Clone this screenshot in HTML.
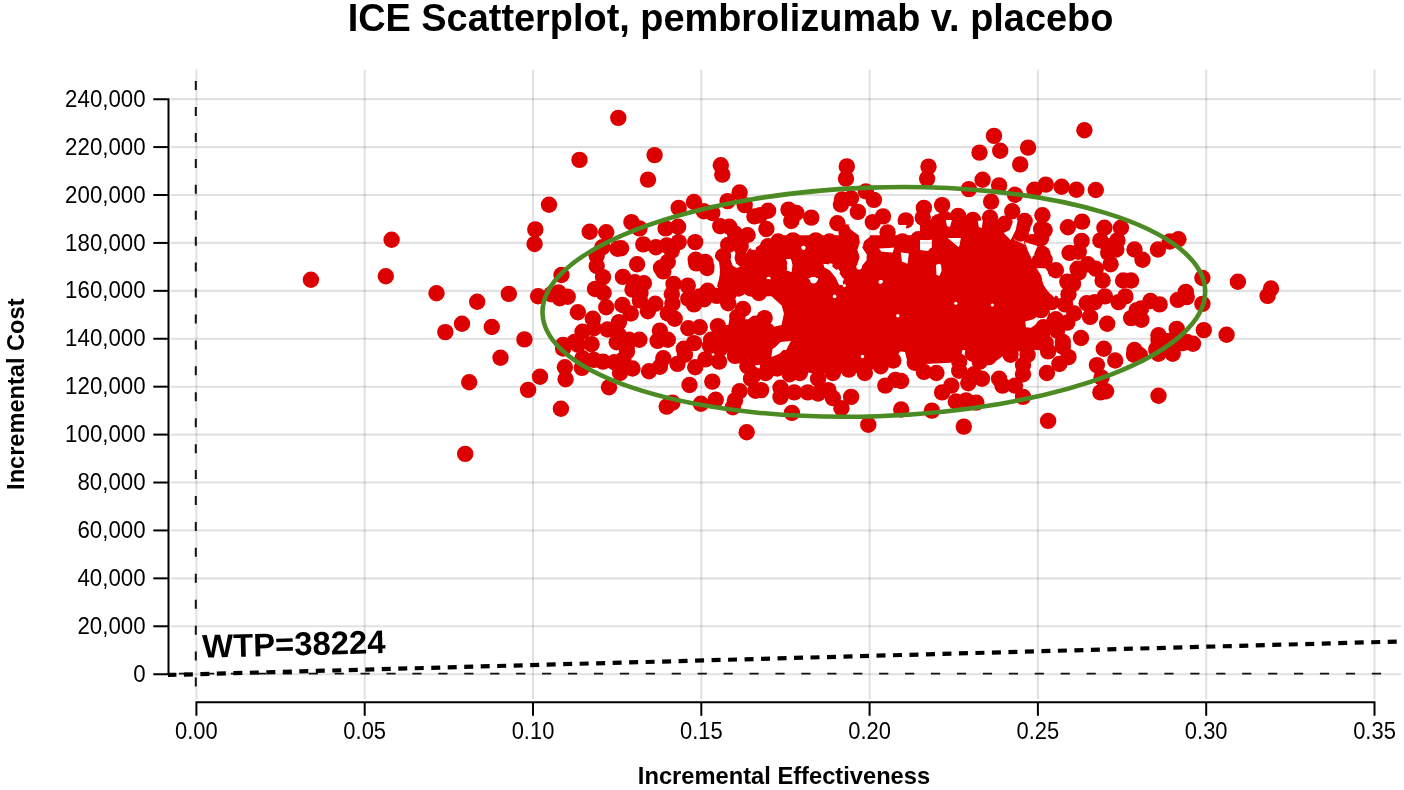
<!DOCTYPE html>
<html><head><meta charset="utf-8"><title>ICE Scatterplot</title>
<style>html,body{margin:0;padding:0;background:#fff;width:1404px;height:790px;overflow:hidden}svg{display:block;will-change:transform}text{font-family:"Liberation Sans",sans-serif}</style>
</head><body><svg width="1404" height="790" viewBox="0 0 1404 790"><line x1="171" y1="674.20" x2="1401" y2="674.20" stroke="#000" stroke-opacity="0.118" stroke-width="2.1"/><line x1="171" y1="626.28" x2="1401" y2="626.28" stroke="#000" stroke-opacity="0.118" stroke-width="2.1"/><line x1="171" y1="578.36" x2="1401" y2="578.36" stroke="#000" stroke-opacity="0.118" stroke-width="2.1"/><line x1="171" y1="530.44" x2="1401" y2="530.44" stroke="#000" stroke-opacity="0.118" stroke-width="2.1"/><line x1="171" y1="482.52" x2="1401" y2="482.52" stroke="#000" stroke-opacity="0.118" stroke-width="2.1"/><line x1="171" y1="434.60" x2="1401" y2="434.60" stroke="#000" stroke-opacity="0.118" stroke-width="2.1"/><line x1="171" y1="386.68" x2="1401" y2="386.68" stroke="#000" stroke-opacity="0.118" stroke-width="2.1"/><line x1="171" y1="338.76" x2="1401" y2="338.76" stroke="#000" stroke-opacity="0.118" stroke-width="2.1"/><line x1="171" y1="290.84" x2="1401" y2="290.84" stroke="#000" stroke-opacity="0.118" stroke-width="2.1"/><line x1="171" y1="242.92" x2="1401" y2="242.92" stroke="#000" stroke-opacity="0.118" stroke-width="2.1"/><line x1="171" y1="195.00" x2="1401" y2="195.00" stroke="#000" stroke-opacity="0.118" stroke-width="2.1"/><line x1="171" y1="147.08" x2="1401" y2="147.08" stroke="#000" stroke-opacity="0.118" stroke-width="2.1"/><line x1="171" y1="99.16" x2="1401" y2="99.16" stroke="#000" stroke-opacity="0.118" stroke-width="2.1"/><line x1="196.40" y1="69.7" x2="196.40" y2="699.5" stroke="#000" stroke-opacity="0.118" stroke-width="2.1"/><line x1="364.70" y1="69.7" x2="364.70" y2="699.5" stroke="#000" stroke-opacity="0.118" stroke-width="2.1"/><line x1="533.00" y1="69.7" x2="533.00" y2="699.5" stroke="#000" stroke-opacity="0.118" stroke-width="2.1"/><line x1="701.30" y1="69.7" x2="701.30" y2="699.5" stroke="#000" stroke-opacity="0.118" stroke-width="2.1"/><line x1="869.60" y1="69.7" x2="869.60" y2="699.5" stroke="#000" stroke-opacity="0.118" stroke-width="2.1"/><line x1="1037.90" y1="69.7" x2="1037.90" y2="699.5" stroke="#000" stroke-opacity="0.118" stroke-width="2.1"/><line x1="1206.20" y1="69.7" x2="1206.20" y2="699.5" stroke="#000" stroke-opacity="0.118" stroke-width="2.1"/><line x1="1374.50" y1="69.7" x2="1374.50" y2="699.5" stroke="#000" stroke-opacity="0.118" stroke-width="2.1"/><defs><mask id="hm" maskUnits="userSpaceOnUse" x="0" y="0" width="1404" height="790"><rect width="1404" height="790" fill="#fff"/><circle cx="789.6" cy="265.7" r="2.8" fill="#000"/><circle cx="813.5" cy="280.3" r="3.2" fill="#000"/><circle cx="830.6" cy="265.1" r="2.1" fill="#000"/><circle cx="838.0" cy="271.4" r="2.1" fill="#000"/><circle cx="842.0" cy="279.4" r="1.8" fill="#000"/><circle cx="844.3" cy="285.6" r="1.6" fill="#000"/><circle cx="859.1" cy="266.8" r="2.8" fill="#000"/><circle cx="881.3" cy="281.6" r="1.7" fill="#000"/><circle cx="904.6" cy="261.7" r="3.2" fill="#000"/><circle cx="834.6" cy="296.4" r="1.8" fill="#000"/><circle cx="897.8" cy="315.8" r="1.7" fill="#000"/><circle cx="862.5" cy="356.5" r="1.7" fill="#000"/><circle cx="929.0" cy="243.2" r="2.3" fill="#000"/><circle cx="956.9" cy="242.1" r="2.3" fill="#000"/><circle cx="902.8" cy="258.6" r="2.3" fill="#000"/><circle cx="1029.8" cy="244.9" r="2.8" fill="#000"/><circle cx="1008.8" cy="233.5" r="1.7" fill="#000"/><circle cx="938.7" cy="267.1" r="1.7" fill="#000"/><circle cx="904.6" cy="261.7" r="2.5" fill="#000"/><circle cx="955.8" cy="303.3" r="1.6" fill="#000"/><circle cx="992.3" cy="305.0" r="1.6" fill="#000"/><circle cx="1039.5" cy="348.3" r="2.1" fill="#000"/><circle cx="734.5" cy="261.7" r="2.5" fill="#000"/><circle cx="768.6" cy="278.8" r="2.1" fill="#000"/><circle cx="803.4" cy="247.8" r="2.1" fill="#000"/><circle cx="880.3" cy="282.0" r="1.7" fill="#000"/><polygon points="760.0,296.4 771.4,296.2 781.6,305.6 783.9,313.5 781.6,324.9 766.8,328.3 760.0,328.3" fill="#000"/><polygon points="772.5,350.0 780.5,342.0 790.8,340.9 786.2,350.0" fill="#000"/><polygon points="771.4,357.1 772.5,349.1 780.5,344.6 790.8,341.1 786.2,346.8 779.4,353.7" fill="#000"/><polygon points="803.3,379.9 809.0,375.3 813.5,374.2 810.1,383.3" fill="#000"/><polygon points="936.4,265.1 941.0,264.6 941.6,270.8 939.3,275.9 936.4,274.8" fill="#000"/><polygon points="1036.7,268.0 1045.8,268.5 1050.0,277.1 1050.0,286.2 1043.5,280.5 1041.2,272.5" fill="#000"/><polygon points="1025.3,321.5 1033.3,319.2 1043.5,312.4 1050.0,309.0 1048.1,314.7 1045.8,321.5 1036.7,323.8 1031.0,327.8 1025.9,327.2" fill="#000"/><polygon points="962.6,350.8 968.3,350.3 970.6,357.1 975.2,365.1 968.3,363.9 964.9,358.2" fill="#000"/><polygon points="786.3,259.2 790.8,259.2 792.5,264.9 791.4,271.7 786.8,270.6 788.0,264.9" fill="#000"/><polygon points="808.5,278.6 813.0,276.9 818.2,278.6 816.5,282.0 811.9,281.4" fill="#000"/><polygon points="823.3,263.7 830.1,264.9 837.0,270.6 841.5,276.3 843.2,284.9 839.3,284.9 835.8,277.4 830.1,270.6 824.4,267.2" fill="#000"/><polygon points="848.4,225.0 859.8,225.0 868.9,231.8 870.0,236.4 864.3,241.0 862.1,247.8 866.6,254.6 866.6,260.3 859.8,268.3 857.5,263.7 859.8,256.9 857.5,250.1 859.8,242.1 858.6,235.3 850.7,229.6" fill="#000"/><polygon points="879.1,248.4 894.0,247.8 892.8,252.4 881.4,251.8" fill="#000"/><polygon points="894.0,225.0 906.5,225.0 905.4,230.7 896.2,231.8" fill="#000"/><polygon points="900.8,252.4 908.8,253.5 907.6,263.7 901.9,261.5" fill="#000"/><polygon points="921.3,241.0 931.6,239.8 931.6,247.8 924.7,250.1" fill="#000"/><polygon points="936.1,264.9 940.0,263.7 940.0,275.1 937.3,274.0" fill="#000"/><polygon points="945.9,220.0 951.9,220.0 949.9,227.0 946.9,226.0" fill="#000"/><polygon points="977.8,221.0 982.8,220.0 981.8,228.0 978.8,227.0" fill="#000"/><polygon points="1003.7,233.0 1009.7,230.0 1013.7,220.0 1017.7,220.0 1015.7,230.0 1010.7,239.9" fill="#000"/><polygon points="1024.7,241.9 1037.6,245.9 1031.7,258.9 1028.7,251.9" fill="#000"/><polygon points="920.0,239.9 926.0,239.9 932.0,245.9 928.0,250.9 920.0,249.9" fill="#000"/><polygon points="947.9,237.9 960.9,237.9 958.9,246.9 953.9,242.9" fill="#000"/><polygon points="1036.6,268.4 1045.4,269.0 1048.0,272.0 1047.0,278.0 1050.0,283.0 1055.0,286.0 1059.5,287.0 1058.0,292.0 1054.3,297.5 1051.0,294.0 1047.5,290.5 1044.0,285.5 1042.5,281.0 1041.5,276.0 1039.0,272.0" fill="#000"/><polygon points="749.0,242.5 757.0,242.5 755.5,250.0 751.0,249.5" fill="#000"/><polygon points="715.0,258.0 719.0,262.0 720.0,270.0 719.0,279.0 717.0,286.0 715.0,286.0 714.0,275.0" fill="#000"/><polygon points="731.0,253.0 735.5,253.0 734.5,258.0 736.0,263.5 740.0,266.5 737.0,268.0 733.0,266.0 731.0,261.0" fill="#000"/></mask><mask id="xm" maskUnits="userSpaceOnUse" x="0" y="0" width="1404" height="790"><rect width="1404" height="790" fill="#fff"/><circle cx="803.4" cy="247.8" r="2.1" fill="#000"/><circle cx="880.3" cy="282.0" r="1.7" fill="#000"/><polygon points="786.3,259.2 790.8,259.2 792.5,264.9 791.4,271.7 786.8,270.6 788.0,264.9" fill="#000"/><polygon points="808.5,278.6 813.0,276.9 818.2,278.6 816.5,282.0 811.9,281.4" fill="#000"/><polygon points="823.3,263.7 830.1,264.9 837.0,270.6 841.5,276.3 843.2,284.9 839.3,284.9 835.8,277.4 830.1,270.6 824.4,267.2" fill="#000"/><polygon points="848.4,225.0 859.8,225.0 868.9,231.8 870.0,236.4 864.3,241.0 862.1,247.8 866.6,254.6 866.6,260.3 859.8,268.3 857.5,263.7 859.8,256.9 857.5,250.1 859.8,242.1 858.6,235.3 850.7,229.6" fill="#000"/><polygon points="879.1,248.4 894.0,247.8 892.8,252.4 881.4,251.8" fill="#000"/><polygon points="894.0,225.0 906.5,225.0 905.4,230.7 896.2,231.8" fill="#000"/><polygon points="900.8,252.4 908.8,253.5 907.6,263.7 901.9,261.5" fill="#000"/><polygon points="921.3,241.0 931.6,239.8 931.6,247.8 924.7,250.1" fill="#000"/><polygon points="936.1,264.9 940.0,263.7 940.0,275.1 937.3,274.0" fill="#000"/><polygon points="945.9,220.0 951.9,220.0 949.9,227.0 946.9,226.0" fill="#000"/><polygon points="977.8,221.0 982.8,220.0 981.8,228.0 978.8,227.0" fill="#000"/><polygon points="1003.7,233.0 1009.7,230.0 1013.7,220.0 1017.7,220.0 1015.7,230.0 1010.7,239.9" fill="#000"/><polygon points="1024.7,241.9 1037.6,245.9 1031.7,258.9 1028.7,251.9" fill="#000"/><polygon points="920.0,239.9 926.0,239.9 932.0,245.9 928.0,250.9 920.0,249.9" fill="#000"/><polygon points="947.9,237.9 960.9,237.9 958.9,246.9 953.9,242.9" fill="#000"/><polygon points="1036.6,268.4 1045.4,269.0 1048.0,272.0 1047.0,278.0 1050.0,283.0 1055.0,286.0 1059.5,287.0 1058.0,292.0 1054.3,297.5 1051.0,294.0 1047.5,290.5 1044.0,285.5 1042.5,281.0 1041.5,276.0 1039.0,272.0" fill="#000"/><polygon points="749.0,242.5 757.0,242.5 755.5,250.0 751.0,249.5" fill="#000"/><polygon points="715.0,258.0 719.0,262.0 720.0,270.0 719.0,279.0 717.0,286.0 715.0,286.0 714.0,275.0" fill="#000"/><polygon points="731.0,253.0 735.5,253.0 734.5,258.0 736.0,263.5 740.0,266.5 737.0,268.0 733.0,266.0 731.0,261.0" fill="#000"/></mask></defs><g fill="#dc0000" mask="url(#xm)"><g mask="url(#hm)"><polygon points="760.0,260.0 910.0,260.0 910.0,350.0 760.0,350.0"/><polygon points="760.0,340.0 910.0,340.0 910.0,351.4 900.1,351.4 891.0,363.9 879.6,366.2 864.8,373.0 832.9,373.0 816.9,374.2 805.6,371.9 782.8,374.2 766.8,373.0 760.0,371.9"/><polygon points="934.2,227.8 979.7,225.6 997.9,230.1 1008.2,239.2 1023.0,243.8 1028.7,252.9 1028.7,270.0 935.3,270.0 928.5,259.7 934.2,243.8"/><polygon points="900.0,260.0 1050.0,260.0 1050.0,350.0 900.0,350.0"/><polygon points="900.0,340.0 1050.0,340.0 1050.0,344.6 1036.7,346.8 1025.3,351.4 1009.3,351.4 996.8,360.5 986.6,365.6 977.4,365.6 972.9,358.2 968.3,351.4 962.6,349.7 960.4,359.4 950.1,362.8 925.1,363.9 908.0,363.9 905.0,352.0 900.0,350.8"/><polygon points="717.9,260.0 770.0,260.0 770.0,294.2 760.1,298.7 751.0,294.2 745.3,293.0 736.2,296.4 733.9,303.3 728.2,301.0 720.2,297.6 716.8,282.8"/><polygon points="729.3,319.2 756.7,319.2 765.8,314.7 770.0,313.5 770.0,350.0 729.3,350.0 727.1,332.9"/><polygon points="780.0,235.3 940.0,235.3 940.0,284.9 780.0,284.9"/><polygon points="920.0,220.0 1009.7,220.0 1014.7,239.9 1024.7,244.9 1034.7,259.9 1039.6,290.0 920.0,290.0"/></g><circle cx="579.5" cy="159.9" r="8.2"/><circle cx="549.0" cy="204.8" r="8.2"/><circle cx="535.3" cy="229.4" r="8.2"/><circle cx="534.6" cy="244.0" r="8.2"/><circle cx="589.7" cy="231.7" r="8.2"/><circle cx="310.9" cy="279.7" r="8.2"/><circle cx="391.6" cy="239.7" r="8.2"/><circle cx="385.8" cy="276.2" r="8.2"/><circle cx="436.5" cy="293.3" r="8.2"/><circle cx="477.2" cy="301.7" r="8.2"/><circle cx="462.0" cy="323.7" r="8.2"/><circle cx="445.3" cy="332.1" r="8.2"/><circle cx="491.8" cy="327.0" r="8.2"/><circle cx="469.2" cy="382.2" r="8.2"/><circle cx="465.2" cy="453.9" r="8.2"/><circle cx="618.3" cy="117.9" r="8.2"/><circle cx="654.6" cy="155.1" r="8.2"/><circle cx="648.0" cy="179.6" r="8.2"/><circle cx="606.2" cy="232.2" r="8.2"/><circle cx="602.4" cy="247.2" r="8.2"/><circle cx="617.5" cy="248.7" r="8.2"/><circle cx="596.7" cy="255.7" r="8.2"/><circle cx="596.7" cy="266.0" r="8.2"/><circle cx="561.5" cy="275.0" r="8.2"/><circle cx="747.4" cy="366.3" r="8.2"/><circle cx="753.8" cy="374.9" r="8.2"/><circle cx="741.0" cy="355.6" r="8.2"/><circle cx="762.4" cy="355.6" r="8.2"/><circle cx="508.8" cy="293.9" r="8.2"/><circle cx="538.1" cy="296.2" r="8.2"/><circle cx="551.2" cy="294.2" r="8.2"/><circle cx="558.6" cy="292.5" r="8.2"/><circle cx="559.7" cy="298.2" r="8.2"/><circle cx="567.7" cy="296.7" r="8.2"/><circle cx="577.9" cy="312.2" r="8.2"/><circle cx="603.0" cy="277.1" r="8.2"/><circle cx="595.0" cy="289.0" r="8.2"/><circle cx="603.6" cy="293.0" r="8.2"/><circle cx="622.9" cy="276.9" r="8.2"/><circle cx="606.2" cy="307.3" r="8.2"/><circle cx="622.4" cy="305.0" r="8.2"/><circle cx="592.8" cy="318.7" r="8.2"/><circle cx="582.5" cy="331.8" r="8.2"/><circle cx="593.9" cy="328.3" r="8.2"/><circle cx="607.6" cy="329.5" r="8.2"/><circle cx="619.0" cy="322.1" r="8.2"/><circle cx="619.0" cy="335.2" r="8.2"/><circle cx="563.1" cy="344.9" r="8.2"/><circle cx="574.5" cy="342.0" r="8.2"/><circle cx="591.6" cy="344.3" r="8.2"/><circle cx="524.4" cy="339.4" r="8.2"/><circle cx="500.5" cy="357.7" r="8.2"/><circle cx="540.0" cy="376.7" r="8.2"/><circle cx="528.1" cy="389.9" r="8.2"/><circle cx="560.9" cy="408.7" r="8.2"/><circle cx="565.6" cy="379.3" r="8.2"/><circle cx="564.9" cy="367.3" r="8.2"/><circle cx="563.1" cy="348.5" r="8.2"/><circle cx="581.9" cy="367.9" r="8.2"/><circle cx="577.9" cy="344.6" r="8.2"/><circle cx="582.5" cy="358.2" r="8.2"/><circle cx="593.9" cy="359.9" r="8.2"/><circle cx="603.0" cy="361.6" r="8.2"/><circle cx="614.4" cy="362.2" r="8.2"/><circle cx="620.1" cy="373.0" r="8.2"/><circle cx="609.0" cy="387.3" r="8.2"/><circle cx="626.9" cy="351.4" r="8.2"/><circle cx="616.7" cy="342.3" r="8.2"/><circle cx="720.8" cy="165.3" r="8.2"/><circle cx="722.3" cy="174.6" r="8.2"/><circle cx="678.7" cy="207.9" r="8.2"/><circle cx="694.0" cy="202.0" r="8.2"/><circle cx="703.7" cy="211.3" r="8.2"/><circle cx="712.3" cy="213.0" r="8.2"/><circle cx="727.6" cy="201.1" r="8.2"/><circle cx="739.6" cy="192.5" r="8.2"/><circle cx="744.7" cy="205.1" r="8.2"/><circle cx="754.4" cy="216.4" r="8.2"/><circle cx="768.1" cy="210.8" r="8.2"/><circle cx="766.4" cy="229.0" r="8.2"/><circle cx="631.4" cy="222.1" r="8.2"/><circle cx="639.4" cy="228.4" r="8.2"/><circle cx="665.6" cy="228.4" r="8.2"/><circle cx="678.1" cy="226.7" r="8.2"/><circle cx="643.3" cy="244.4" r="8.2"/><circle cx="655.9" cy="247.2" r="8.2"/><circle cx="666.7" cy="245.5" r="8.2"/><circle cx="678.7" cy="242.1" r="8.2"/><circle cx="671.8" cy="250.6" r="8.2"/><circle cx="695.2" cy="242.1" r="8.2"/><circle cx="720.2" cy="226.1" r="8.2"/><circle cx="729.3" cy="226.7" r="8.2"/><circle cx="735.0" cy="233.5" r="8.2"/><circle cx="747.6" cy="235.2" r="8.2"/><circle cx="728.2" cy="244.9" r="8.2"/><circle cx="740.7" cy="246.1" r="8.2"/><circle cx="723.1" cy="256.3" r="8.2"/><circle cx="621.1" cy="248.3" r="8.2"/><circle cx="637.1" cy="264.3" r="8.2"/><circle cx="667.8" cy="262.0" r="8.2"/><circle cx="661.0" cy="267.7" r="8.2"/><circle cx="695.7" cy="259.7" r="8.2"/><circle cx="705.4" cy="262.0" r="8.2"/><circle cx="740.7" cy="258.6" r="8.2"/><circle cx="754.4" cy="255.2" r="8.2"/><circle cx="762.4" cy="252.9" r="8.2"/><circle cx="768.1" cy="246.1" r="8.2"/><circle cx="760.1" cy="266.6" r="8.2"/><circle cx="724.8" cy="266.6" r="8.2"/><circle cx="663.3" cy="271.4" r="8.2"/><circle cx="634.8" cy="282.2" r="8.2"/><circle cx="643.9" cy="283.3" r="8.2"/><circle cx="632.5" cy="289.6" r="8.2"/><circle cx="640.5" cy="293.0" r="8.2"/><circle cx="639.9" cy="300.4" r="8.2"/><circle cx="630.8" cy="313.5" r="8.2"/><circle cx="647.9" cy="311.3" r="8.2"/><circle cx="655.3" cy="303.8" r="8.2"/><circle cx="673.5" cy="283.9" r="8.2"/><circle cx="671.8" cy="294.2" r="8.2"/><circle cx="672.4" cy="303.8" r="8.2"/><circle cx="667.8" cy="313.5" r="8.2"/><circle cx="674.7" cy="318.7" r="8.2"/><circle cx="687.8" cy="285.6" r="8.2"/><circle cx="688.3" cy="298.7" r="8.2"/><circle cx="694.0" cy="304.4" r="8.2"/><circle cx="699.7" cy="296.4" r="8.2"/><circle cx="707.7" cy="290.8" r="8.2"/><circle cx="704.3" cy="299.3" r="8.2"/><circle cx="716.8" cy="295.9" r="8.2"/><circle cx="696.3" cy="263.4" r="8.2"/><circle cx="707.1" cy="268.0" r="8.2"/><circle cx="724.8" cy="282.8" r="8.2"/><circle cx="733.9" cy="273.7" r="8.2"/><circle cx="745.3" cy="265.7" r="8.2"/><circle cx="756.7" cy="271.4" r="8.2"/><circle cx="762.4" cy="263.4" r="8.2"/><circle cx="738.5" cy="288.5" r="8.2"/><circle cx="751.0" cy="288.5" r="8.2"/><circle cx="759.0" cy="293.0" r="8.2"/><circle cx="728.2" cy="303.3" r="8.2"/><circle cx="743.0" cy="309.0" r="8.2"/><circle cx="737.3" cy="316.9" r="8.2"/><circle cx="764.6" cy="318.1" r="8.2"/><circle cx="755.5" cy="323.8" r="8.2"/><circle cx="768.1" cy="287.3" r="8.2"/><circle cx="766.9" cy="330.6" r="8.2"/><circle cx="688.3" cy="328.3" r="8.2"/><circle cx="699.7" cy="327.2" r="8.2"/><circle cx="717.9" cy="326.1" r="8.2"/><circle cx="728.2" cy="332.9" r="8.2"/><circle cx="739.6" cy="330.6" r="8.2"/><circle cx="751.0" cy="334.0" r="8.2"/><circle cx="762.4" cy="339.7" r="8.2"/><circle cx="739.6" cy="343.1" r="8.2"/><circle cx="728.2" cy="344.3" r="8.2"/><circle cx="711.1" cy="339.7" r="8.2"/><circle cx="694.0" cy="343.1" r="8.2"/><circle cx="683.8" cy="348.8" r="8.2"/><circle cx="659.9" cy="330.6" r="8.2"/><circle cx="667.8" cy="339.7" r="8.2"/><circle cx="657.6" cy="340.9" r="8.2"/><circle cx="639.4" cy="339.7" r="8.2"/><circle cx="629.1" cy="339.7" r="8.2"/><circle cx="720.2" cy="348.8" r="8.2"/><circle cx="751.0" cy="346.6" r="8.2"/><circle cx="626.8" cy="346.8" r="8.2"/><circle cx="623.4" cy="359.4" r="8.2"/><circle cx="632.5" cy="368.5" r="8.2"/><circle cx="649.0" cy="371.3" r="8.2"/><circle cx="659.9" cy="366.8" r="8.2"/><circle cx="663.3" cy="358.2" r="8.2"/><circle cx="677.5" cy="363.9" r="8.2"/><circle cx="684.9" cy="354.8" r="8.2"/><circle cx="695.2" cy="367.3" r="8.2"/><circle cx="705.4" cy="359.4" r="8.2"/><circle cx="710.0" cy="345.7" r="8.2"/><circle cx="720.2" cy="340.0" r="8.2"/><circle cx="719.1" cy="361.6" r="8.2"/><circle cx="689.5" cy="385.0" r="8.2"/><circle cx="712.3" cy="381.6" r="8.2"/><circle cx="666.7" cy="406.6" r="8.2"/><circle cx="672.4" cy="402.6" r="8.2"/><circle cx="700.9" cy="403.8" r="8.2"/><circle cx="715.7" cy="399.8" r="8.2"/><circle cx="732.8" cy="407.2" r="8.2"/><circle cx="739.6" cy="391.3" r="8.2"/><circle cx="735.0" cy="400.4" r="8.2"/><circle cx="755.5" cy="390.7" r="8.2"/><circle cx="751.0" cy="378.7" r="8.2"/><circle cx="735.0" cy="355.9" r="8.2"/><circle cx="733.9" cy="344.6" r="8.2"/><circle cx="745.3" cy="349.1" r="8.2"/><circle cx="756.7" cy="357.1" r="8.2"/><circle cx="765.8" cy="373.0" r="8.2"/><circle cx="762.4" cy="346.8" r="8.2"/><circle cx="746.7" cy="432.2" r="8.2"/><circle cx="868.3" cy="424.7" r="8.2"/><circle cx="846.8" cy="166.4" r="8.2"/><circle cx="846.0" cy="178.6" r="8.2"/><circle cx="865.9" cy="191.4" r="8.2"/><circle cx="873.9" cy="199.9" r="8.2"/><circle cx="842.0" cy="199.4" r="8.2"/><circle cx="851.1" cy="198.2" r="8.2"/><circle cx="840.9" cy="204.5" r="8.2"/><circle cx="857.9" cy="211.9" r="8.2"/><circle cx="788.5" cy="209.6" r="8.2"/><circle cx="796.4" cy="213.0" r="8.2"/><circle cx="791.3" cy="221.0" r="8.2"/><circle cx="811.3" cy="217.6" r="8.2"/><circle cx="760.0" cy="215.3" r="8.2"/><circle cx="837.4" cy="223.3" r="8.2"/><circle cx="846.6" cy="232.4" r="8.2"/><circle cx="855.7" cy="240.4" r="8.2"/><circle cx="872.8" cy="222.1" r="8.2"/><circle cx="883.0" cy="216.4" r="8.2"/><circle cx="887.6" cy="232.4" r="8.2"/><circle cx="905.8" cy="220.4" r="8.2"/><circle cx="902.4" cy="241.5" r="8.2"/><circle cx="871.6" cy="246.1" r="8.2"/><circle cx="883.0" cy="248.3" r="8.2"/><circle cx="894.4" cy="257.4" r="8.2"/><circle cx="870.5" cy="263.1" r="8.2"/><circle cx="904.6" cy="267.7" r="8.2"/><circle cx="815.8" cy="240.4" r="8.2"/><circle cx="829.5" cy="241.5" r="8.2"/><circle cx="842.0" cy="243.8" r="8.2"/><circle cx="830.6" cy="255.2" r="8.2"/><circle cx="851.1" cy="258.6" r="8.2"/><circle cx="814.7" cy="252.9" r="8.2"/><circle cx="816.9" cy="263.1" r="8.2"/><circle cx="778.2" cy="241.5" r="8.2"/><circle cx="793.0" cy="240.4" r="8.2"/><circle cx="775.9" cy="250.6" r="8.2"/><circle cx="787.3" cy="248.3" r="8.2"/><circle cx="797.6" cy="254.0" r="8.2"/><circle cx="765.7" cy="255.2" r="8.2"/><circle cx="778.2" cy="262.0" r="8.2"/><circle cx="799.9" cy="264.3" r="8.2"/><circle cx="908.1" cy="258.6" r="8.2"/><circle cx="846.6" cy="266.6" r="8.2"/><circle cx="777.1" cy="368.5" r="8.2"/><circle cx="789.6" cy="374.2" r="8.2"/><circle cx="799.9" cy="373.0" r="8.2"/><circle cx="818.1" cy="378.7" r="8.2"/><circle cx="832.9" cy="373.0" r="8.2"/><circle cx="848.8" cy="369.6" r="8.2"/><circle cx="864.8" cy="373.0" r="8.2"/><circle cx="880.7" cy="366.2" r="8.2"/><circle cx="893.3" cy="360.5" r="8.2"/><circle cx="761.1" cy="390.1" r="8.2"/><circle cx="780.5" cy="387.8" r="8.2"/><circle cx="780.5" cy="396.9" r="8.2"/><circle cx="794.2" cy="392.4" r="8.2"/><circle cx="807.8" cy="392.4" r="8.2"/><circle cx="818.1" cy="393.5" r="8.2"/><circle cx="828.3" cy="390.1" r="8.2"/><circle cx="832.9" cy="398.1" r="8.2"/><circle cx="841.4" cy="408.3" r="8.2"/><circle cx="851.1" cy="396.9" r="8.2"/><circle cx="791.9" cy="412.9" r="8.2"/><circle cx="885.3" cy="385.6" r="8.2"/><circle cx="895.5" cy="379.9" r="8.2"/><circle cx="901.2" cy="409.5" r="8.2"/><circle cx="928.5" cy="166.6" r="8.2"/><circle cx="927.1" cy="178.6" r="8.2"/><circle cx="994.0" cy="135.9" r="8.2"/><circle cx="1000.2" cy="150.7" r="8.2"/><circle cx="979.5" cy="152.6" r="8.2"/><circle cx="1028.1" cy="147.6" r="8.2"/><circle cx="1020.2" cy="164.4" r="8.2"/><circle cx="982.6" cy="179.7" r="8.2"/><circle cx="999.1" cy="185.4" r="8.2"/><circle cx="968.9" cy="189.1" r="8.2"/><circle cx="1015.0" cy="194.8" r="8.2"/><circle cx="1034.4" cy="189.7" r="8.2"/><circle cx="1045.8" cy="184.6" r="8.2"/><circle cx="991.1" cy="201.6" r="8.2"/><circle cx="1012.2" cy="211.3" r="8.2"/><circle cx="923.9" cy="207.9" r="8.2"/><circle cx="942.1" cy="205.1" r="8.2"/><circle cx="922.8" cy="217.6" r="8.2"/><circle cx="938.7" cy="222.1" r="8.2"/><circle cx="958.1" cy="215.9" r="8.2"/><circle cx="972.9" cy="219.9" r="8.2"/><circle cx="990.0" cy="217.6" r="8.2"/><circle cx="1004.8" cy="223.8" r="8.2"/><circle cx="1024.7" cy="221.0" r="8.2"/><circle cx="1042.4" cy="215.3" r="8.2"/><circle cx="1044.6" cy="230.1" r="8.2"/><circle cx="1020.7" cy="233.5" r="8.2"/><circle cx="954.7" cy="232.4" r="8.2"/><circle cx="918.2" cy="239.2" r="8.2"/><circle cx="915.9" cy="258.6" r="8.2"/><circle cx="929.6" cy="252.9" r="8.2"/><circle cx="1042.4" cy="254.0" r="8.2"/><circle cx="1031.0" cy="263.1" r="8.2"/><circle cx="914.8" cy="362.8" r="8.2"/><circle cx="923.9" cy="371.9" r="8.2"/><circle cx="936.4" cy="373.0" r="8.2"/><circle cx="901.1" cy="381.0" r="8.2"/><circle cx="942.1" cy="392.4" r="8.2"/><circle cx="951.3" cy="385.6" r="8.2"/><circle cx="959.2" cy="370.8" r="8.2"/><circle cx="959.2" cy="361.6" r="8.2"/><circle cx="968.3" cy="383.3" r="8.2"/><circle cx="974.0" cy="374.2" r="8.2"/><circle cx="982.0" cy="378.7" r="8.2"/><circle cx="979.7" cy="361.6" r="8.2"/><circle cx="988.8" cy="357.1" r="8.2"/><circle cx="972.9" cy="353.7" r="8.2"/><circle cx="1010.5" cy="354.8" r="8.2"/><circle cx="1027.6" cy="354.8" r="8.2"/><circle cx="1023.0" cy="365.1" r="8.2"/><circle cx="1023.0" cy="374.2" r="8.2"/><circle cx="999.1" cy="378.7" r="8.2"/><circle cx="1002.5" cy="385.6" r="8.2"/><circle cx="1015.0" cy="385.6" r="8.2"/><circle cx="1023.0" cy="396.9" r="8.2"/><circle cx="955.8" cy="401.5" r="8.2"/><circle cx="966.1" cy="400.4" r="8.2"/><circle cx="976.3" cy="402.6" r="8.2"/><circle cx="931.9" cy="410.6" r="8.2"/><circle cx="963.8" cy="426.6" r="8.2"/><circle cx="1046.9" cy="373.0" r="8.2"/><circle cx="1048.1" cy="351.4" r="8.2"/><circle cx="1048.1" cy="420.9" r="8.2"/><circle cx="1040.1" cy="342.3" r="8.2"/><circle cx="1084.4" cy="130.2" r="8.2"/><circle cx="1061.6" cy="186.8" r="8.2"/><circle cx="1076.4" cy="189.7" r="8.2"/><circle cx="1095.8" cy="190.0" r="8.2"/><circle cx="1041.1" cy="229.0" r="8.2"/><circle cx="1041.1" cy="238.1" r="8.2"/><circle cx="1044.6" cy="259.7" r="8.2"/><circle cx="1067.9" cy="227.3" r="8.2"/><circle cx="1082.1" cy="221.6" r="8.2"/><circle cx="1081.6" cy="240.9" r="8.2"/><circle cx="1069.6" cy="252.9" r="8.2"/><circle cx="1078.7" cy="251.8" r="8.2"/><circle cx="1104.4" cy="227.8" r="8.2"/><circle cx="1120.9" cy="227.8" r="8.2"/><circle cx="1100.4" cy="240.4" r="8.2"/><circle cx="1117.4" cy="240.4" r="8.2"/><circle cx="1108.3" cy="246.1" r="8.2"/><circle cx="1116.3" cy="249.5" r="8.2"/><circle cx="1108.3" cy="252.9" r="8.2"/><circle cx="1110.6" cy="264.3" r="8.2"/><circle cx="1087.8" cy="264.3" r="8.2"/><circle cx="1077.6" cy="268.8" r="8.2"/><circle cx="1095.8" cy="268.8" r="8.2"/><circle cx="1134.5" cy="249.5" r="8.2"/><circle cx="1142.5" cy="259.7" r="8.2"/><circle cx="1157.9" cy="249.5" r="8.2"/><circle cx="1169.8" cy="241.5" r="8.2"/><circle cx="1178.4" cy="239.2" r="8.2"/><circle cx="1055.9" cy="270.3" r="8.2"/><circle cx="1033.2" cy="275.9" r="8.2"/><circle cx="1036.0" cy="288.5" r="8.2"/><circle cx="1067.3" cy="281.6" r="8.2"/><circle cx="1073.0" cy="283.9" r="8.2"/><circle cx="1068.5" cy="294.2" r="8.2"/><circle cx="1078.7" cy="272.5" r="8.2"/><circle cx="1102.6" cy="280.5" r="8.2"/><circle cx="1123.1" cy="280.5" r="8.2"/><circle cx="1131.1" cy="280.5" r="8.2"/><circle cx="1104.9" cy="296.4" r="8.2"/><circle cx="1094.7" cy="302.1" r="8.2"/><circle cx="1086.7" cy="303.3" r="8.2"/><circle cx="1125.4" cy="296.4" r="8.2"/><circle cx="1118.6" cy="302.1" r="8.2"/><circle cx="1051.4" cy="302.1" r="8.2"/><circle cx="1065.1" cy="304.4" r="8.2"/><circle cx="1074.2" cy="313.5" r="8.2"/><circle cx="1090.1" cy="316.9" r="8.2"/><circle cx="1041.1" cy="310.1" r="8.2"/><circle cx="1055.9" cy="319.2" r="8.2"/><circle cx="1067.3" cy="322.6" r="8.2"/><circle cx="1043.4" cy="327.2" r="8.2"/><circle cx="1057.1" cy="330.6" r="8.2"/><circle cx="1062.8" cy="342.0" r="8.2"/><circle cx="1045.7" cy="343.1" r="8.2"/><circle cx="1081.0" cy="338.0" r="8.2"/><circle cx="1107.2" cy="323.8" r="8.2"/><circle cx="1136.8" cy="310.1" r="8.2"/><circle cx="1131.1" cy="318.1" r="8.2"/><circle cx="1141.4" cy="319.8" r="8.2"/><circle cx="1150.5" cy="301.0" r="8.2"/><circle cx="1159.6" cy="304.4" r="8.2"/><circle cx="1177.8" cy="299.9" r="8.2"/><circle cx="1185.8" cy="291.9" r="8.2"/><circle cx="1158.5" cy="335.2" r="8.2"/><circle cx="1176.7" cy="328.9" r="8.2"/><circle cx="1168.7" cy="340.9" r="8.2"/><circle cx="1182.4" cy="343.1" r="8.2"/><circle cx="1186.9" cy="342.0" r="8.2"/><circle cx="1103.8" cy="348.8" r="8.2"/><circle cx="1134.5" cy="350.0" r="8.2"/><circle cx="1156.2" cy="349.4" r="8.2"/><circle cx="1062.8" cy="346.8" r="8.2"/><circle cx="1068.5" cy="357.1" r="8.2"/><circle cx="1059.4" cy="363.9" r="8.2"/><circle cx="1115.2" cy="360.5" r="8.2"/><circle cx="1096.9" cy="365.1" r="8.2"/><circle cx="1101.5" cy="377.6" r="8.2"/><circle cx="1100.4" cy="392.4" r="8.2"/><circle cx="1106.1" cy="391.3" r="8.2"/><circle cx="1134.0" cy="354.8" r="8.2"/><circle cx="1158.5" cy="353.7" r="8.2"/><circle cx="1172.7" cy="353.7" r="8.2"/><circle cx="1158.5" cy="340.0" r="8.2"/><circle cx="1158.5" cy="395.8" r="8.2"/><circle cx="1202.4" cy="278.0" r="8.2"/><circle cx="1237.9" cy="281.8" r="8.2"/><circle cx="1271.0" cy="288.5" r="8.2"/><circle cx="1267.6" cy="295.9" r="8.2"/><circle cx="1186.7" cy="297.1" r="8.2"/><circle cx="1202.4" cy="303.9" r="8.2"/><circle cx="1141.1" cy="308.5" r="8.2"/><circle cx="1193.0" cy="343.8" r="8.2"/><circle cx="1203.8" cy="330.1" r="8.2"/><circle cx="1226.6" cy="334.7" r="8.2"/><circle cx="1140.0" cy="355.2" r="8.2"/><circle cx="953.2" cy="229.0" r="8.2"/><circle cx="964.7" cy="235.6" r="8.2"/><circle cx="977.9" cy="227.4" r="8.2"/><circle cx="992.7" cy="227.4" r="8.2"/><circle cx="944.9" cy="219.1" r="8.2"/><circle cx="1009.1" cy="232.3" r="8.2"/><circle cx="1022.3" cy="227.4" r="8.2"/><circle cx="1032.2" cy="242.2" r="8.2"/></g><ellipse cx="873.84" cy="301.92" rx="331.51" ry="114.35" transform="rotate(-2.004 873.84 301.92)" fill="none" stroke="#4c8a24" stroke-width="4.6"/><line x1="195.8" y1="686.5" x2="195.8" y2="70" stroke="#111" stroke-width="2" stroke-dasharray="9 16.93"/><line x1="1381" y1="673.6" x2="168" y2="673.6" stroke="#111" stroke-width="1.9" stroke-dasharray="9.2 16.73"/><line x1="1396.7" y1="641.54" x2="168.0" y2="674.97" stroke="#000" stroke-width="4.2" stroke-dasharray="9 7.497"/><path d="M153.3 99.2 H168.5 V674.2 H153.3" fill="none" stroke="#000" stroke-width="2"/><line x1="153.3" y1="626.28" x2="168.5" y2="626.28" stroke="#000" stroke-width="2"/><line x1="153.3" y1="578.36" x2="168.5" y2="578.36" stroke="#000" stroke-width="2"/><line x1="153.3" y1="530.44" x2="168.5" y2="530.44" stroke="#000" stroke-width="2"/><line x1="153.3" y1="482.52" x2="168.5" y2="482.52" stroke="#000" stroke-width="2"/><line x1="153.3" y1="434.60" x2="168.5" y2="434.60" stroke="#000" stroke-width="2"/><line x1="153.3" y1="386.68" x2="168.5" y2="386.68" stroke="#000" stroke-width="2"/><line x1="153.3" y1="338.76" x2="168.5" y2="338.76" stroke="#000" stroke-width="2"/><line x1="153.3" y1="290.84" x2="168.5" y2="290.84" stroke="#000" stroke-width="2"/><line x1="153.3" y1="242.92" x2="168.5" y2="242.92" stroke="#000" stroke-width="2"/><line x1="153.3" y1="195.00" x2="168.5" y2="195.00" stroke="#000" stroke-width="2"/><line x1="153.3" y1="147.08" x2="168.5" y2="147.08" stroke="#000" stroke-width="2"/><path d="M196.40 715.8 V702.2 H1374.50 V715.8" fill="none" stroke="#000" stroke-width="2"/><line x1="364.70" y1="702.2" x2="364.70" y2="715.8" stroke="#000" stroke-width="2"/><line x1="533.00" y1="702.2" x2="533.00" y2="715.8" stroke="#000" stroke-width="2"/><line x1="701.30" y1="702.2" x2="701.30" y2="715.8" stroke="#000" stroke-width="2"/><line x1="869.60" y1="702.2" x2="869.60" y2="715.8" stroke="#000" stroke-width="2"/><line x1="1037.90" y1="702.2" x2="1037.90" y2="715.8" stroke="#000" stroke-width="2"/><line x1="1206.20" y1="702.2" x2="1206.20" y2="715.8" stroke="#000" stroke-width="2"/><text x="145.6" y="681.80" font-family="Liberation Sans" font-size="24.2" text-anchor="end" transform="translate(145.6 0) scale(0.92 1) translate(-145.6 0)">0</text><text x="145.6" y="633.88" font-family="Liberation Sans" font-size="24.2" text-anchor="end" transform="translate(145.6 0) scale(0.92 1) translate(-145.6 0)">20,000</text><text x="145.6" y="585.96" font-family="Liberation Sans" font-size="24.2" text-anchor="end" transform="translate(145.6 0) scale(0.92 1) translate(-145.6 0)">40,000</text><text x="145.6" y="538.04" font-family="Liberation Sans" font-size="24.2" text-anchor="end" transform="translate(145.6 0) scale(0.92 1) translate(-145.6 0)">60,000</text><text x="145.6" y="490.12" font-family="Liberation Sans" font-size="24.2" text-anchor="end" transform="translate(145.6 0) scale(0.92 1) translate(-145.6 0)">80,000</text><text x="145.6" y="442.20" font-family="Liberation Sans" font-size="24.2" text-anchor="end" transform="translate(145.6 0) scale(0.92 1) translate(-145.6 0)">100,000</text><text x="145.6" y="394.28" font-family="Liberation Sans" font-size="24.2" text-anchor="end" transform="translate(145.6 0) scale(0.92 1) translate(-145.6 0)">120,000</text><text x="145.6" y="346.36" font-family="Liberation Sans" font-size="24.2" text-anchor="end" transform="translate(145.6 0) scale(0.92 1) translate(-145.6 0)">140,000</text><text x="145.6" y="298.44" font-family="Liberation Sans" font-size="24.2" text-anchor="end" transform="translate(145.6 0) scale(0.92 1) translate(-145.6 0)">160,000</text><text x="145.6" y="250.52" font-family="Liberation Sans" font-size="24.2" text-anchor="end" transform="translate(145.6 0) scale(0.92 1) translate(-145.6 0)">180,000</text><text x="145.6" y="202.60" font-family="Liberation Sans" font-size="24.2" text-anchor="end" transform="translate(145.6 0) scale(0.92 1) translate(-145.6 0)">200,000</text><text x="145.6" y="154.68" font-family="Liberation Sans" font-size="24.2" text-anchor="end" transform="translate(145.6 0) scale(0.92 1) translate(-145.6 0)">220,000</text><text x="145.6" y="106.76" font-family="Liberation Sans" font-size="24.2" text-anchor="end" transform="translate(145.6 0) scale(0.92 1) translate(-145.6 0)">240,000</text><text x="196.40" y="739.4" font-family="Liberation Sans" font-size="23.6" text-anchor="middle" transform="translate(196.40 0) scale(0.93 1) translate(-196.40 0)">0.00</text><text x="364.70" y="739.4" font-family="Liberation Sans" font-size="23.6" text-anchor="middle" transform="translate(364.70 0) scale(0.93 1) translate(-364.70 0)">0.05</text><text x="533.00" y="739.4" font-family="Liberation Sans" font-size="23.6" text-anchor="middle" transform="translate(533.00 0) scale(0.93 1) translate(-533.00 0)">0.10</text><text x="701.30" y="739.4" font-family="Liberation Sans" font-size="23.6" text-anchor="middle" transform="translate(701.30 0) scale(0.93 1) translate(-701.30 0)">0.15</text><text x="869.60" y="739.4" font-family="Liberation Sans" font-size="23.6" text-anchor="middle" transform="translate(869.60 0) scale(0.93 1) translate(-869.60 0)">0.20</text><text x="1037.90" y="739.4" font-family="Liberation Sans" font-size="23.6" text-anchor="middle" transform="translate(1037.90 0) scale(0.93 1) translate(-1037.90 0)">0.25</text><text x="1206.20" y="739.4" font-family="Liberation Sans" font-size="23.6" text-anchor="middle" transform="translate(1206.20 0) scale(0.93 1) translate(-1206.20 0)">0.30</text><text x="1374.50" y="739.4" font-family="Liberation Sans" font-size="23.6" text-anchor="middle" transform="translate(1374.50 0) scale(0.93 1) translate(-1374.50 0)">0.35</text><text x="730.5" y="30.8" font-family="Liberation Sans" font-weight="bold" font-size="37.9" text-anchor="middle">ICE Scatterplot, pembrolizumab v. placebo</text><text x="784" y="783.9" font-family="Liberation Sans" font-weight="bold" font-size="23.7" text-anchor="middle">Incremental Effectiveness</text><text x="0" y="0" font-family="Liberation Sans" font-weight="bold" font-size="23.6" text-anchor="middle" transform="translate(23.8 394.2) rotate(-90)">Incremental Cost</text><text x="0" y="0" font-family="Liberation Sans" font-weight="bold" font-size="32.8" transform="translate(202.5 657.7) rotate(-1.45)">WTP=38224</text></svg></body></html>
